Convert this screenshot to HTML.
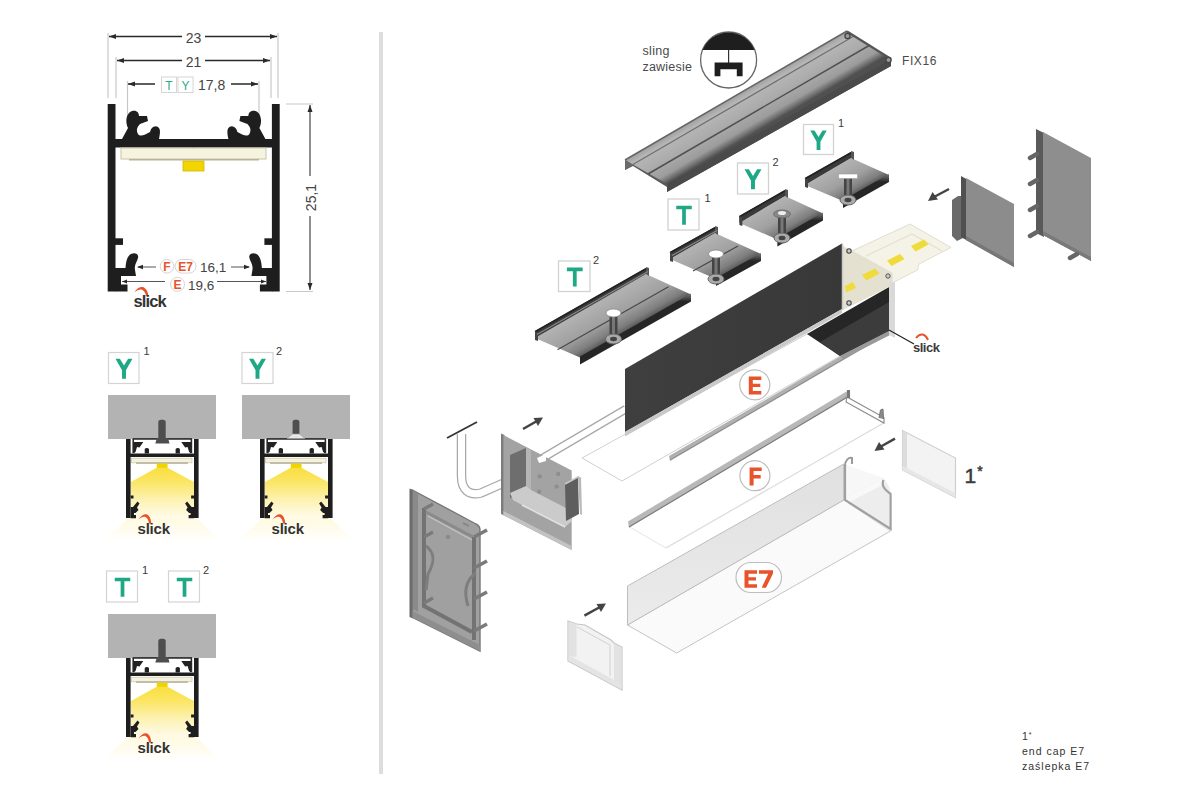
<!DOCTYPE html>
<html><head><meta charset="utf-8"><style>
html,body{margin:0;padding:0;background:#fff;width:1200px;height:800px;overflow:hidden}
svg{display:block;font-family:"Liberation Sans",sans-serif}
</style></head><body>
<svg width="1200" height="800" viewBox="0 0 1200 800">
<defs>
<marker id="arr" viewBox="0 0 10 10" refX="10" refY="5" markerWidth="6" markerHeight="6" orient="auto-start-reverse" markerUnits="userSpaceOnUse"><path d="M0 1 L10 5 L0 9 Z" fill="#222"/></marker>
<linearGradient id="cone" x1="0" y1="0" x2="0" y2="1"><stop offset="0" stop-color="#f9de3c"/><stop offset="0.3" stop-color="#fbe666"/><stop offset="0.65" stop-color="#fdf2b4"/><stop offset="1" stop-color="#fffbea"/></linearGradient>
<linearGradient id="glow" x1="0" y1="0" x2="0" y2="1"><stop offset="0" stop-color="#fff9dc"/><stop offset="1" stop-color="#ffffff"/></linearGradient>
<!-- mini cross-section (Y1 reference position) -->
<g id="mini">
  <polygon points="131,516 194,516 222,542 102,542" fill="url(#glow)"/>
  <polygon points="131,482 158,467 166,467 194,482 194,518 131,518" fill="url(#cone)"/>
  <rect x="108" y="395" width="108" height="44" fill="#b3b3b3"/>
  <rect x="126" y="439" width="4.6" height="79" fill="#1e1e1e"/>
  <rect x="194" y="439" width="4.6" height="79" fill="#1e1e1e"/>
  <rect x="130" y="453.5" width="64" height="3.5" fill="#1e1e1e"/>
  <rect x="131.5" y="458.2" width="60.5" height="4.6" fill="#f4f1dd" stroke="#c9c4aa" stroke-width="0.7"/>
  <rect x="136" y="462.6" width="52" height="1" fill="#9c9784"/>
  <rect x="156.8" y="463.6" width="10.8" height="4.2" fill="#f0d400"/>
  <rect x="132.7" y="438" width="59.3" height="1.8" fill="#3a3a3a"/>
  <rect x="132.4" y="439" width="1.6" height="14" fill="#2a2a2a"/>
  <rect x="190.6" y="439" width="1.6" height="14" fill="#2a2a2a"/>
  <path d="M133.5 442 H143.3 L139.5 447.5 L137 447 L135.5 452 L133.5 453.6 Z M144.7 453.6 V449 C145.5 447.8 148 447.8 149 449 V453.6 Z" fill="#222"/>
  <path d="M191.1 442 H181.3 L185.1 447.5 L187.6 447 L189.1 452 L191.1 453.6 Z M179.9 453.6 V449 C179.1 447.8 176.6 447.8 175.6 449 V453.6 Z" fill="#222"/>
  <path d="M130.6 495.5 H133.5 V498.5 H130.6 Z M130.6 507 H133 L137.5 501.5 L139.5 503.5 L137 507.5 L138.5 510 L135.5 513 H134 V515 H136 V518.3 H130.6 Z" fill="#1e1e1e"/>
  <path d="M194 495.5 H191.1 V498.5 H194 Z M194 507 H191.6 L187.1 501.5 L185.1 503.5 L187.6 507.5 L186.1 510 L189.1 513 H190.6 V515 H188.6 V518.3 H194 Z" fill="#1e1e1e"/>
  <path d="M138.5 519.5 C141 515.5 144.5 513.5 147 514.5 C149.5 515.5 151 519 151.3 523.5 L149 523.5 C148.6 520.3 147.4 517.8 145.4 517 C143.2 516.4 141 517.6 138.5 519.5 Z" fill="#e8532b"/>
  <text x="137.5" y="533.5" font-size="15" font-weight="bold" fill="#333" letter-spacing="-0.2">slick</text>
</g>
</defs>

<!-- divider -->
<rect x="379" y="32" width="4" height="742" fill="#dddddd"/>

<!-- ===== main cross-section ===== -->
<g id="xsec">
  <!-- extension lines -->
  <path d="M108 33 V98 M278 33 V98 M116 57 V98 M271 57 V98 M127.5 81 V120 M259 81 V120 M286 104 H313 M286 291.5 H313" stroke="#c8c8c8" stroke-width="1.2" fill="none"/>
  <!-- dimension lines -->
  <path d="M109 36.5 H182 M205 36.5 H277" stroke="#2a2a2a" stroke-width="1.3" fill="none"/>
  <path d="M109 36.5 l7 -2.5 v5 Z M277 36.5 l-7 -2.5 v5 Z" fill="#2a2a2a"/>
  <path d="M117 60.5 H182 M205 60.5 H270" stroke="#2a2a2a" stroke-width="1.3" fill="none"/>
  <path d="M117 60.5 l7 -2.5 v5 Z M270 60.5 l-7 -2.5 v5 Z" fill="#2a2a2a"/>
  <path d="M128 84 H155 M231 84 H258" stroke="#2a2a2a" stroke-width="1.3" fill="none"/>
  <path d="M128 84 l7 -2.5 v5 Z M258 84 l-7 -2.5 v5 Z" fill="#2a2a2a"/>
  <path d="M310 105 V176 M310 216 V290" stroke="#555" stroke-width="1.3" fill="none"/>
  <path d="M310 105 l-2.5 7 h5 Z M310 290 l-2.5 -7 h5 Z" fill="#2a2a2a"/>
  <text x="193.5" y="42.5" font-size="14" fill="#444" text-anchor="middle">23</text>
  <text x="193.5" y="66.5" font-size="14" fill="#444" text-anchor="middle">21</text>
  <text x="198" y="90" font-size="14" fill="#444">17,8</text>
  <text transform="translate(316 197.5) rotate(-90)" font-size="14" fill="#444" text-anchor="middle">25,1</text>
  <!-- T Y badges -->
  <rect x="161.5" y="77" width="15" height="15.5" fill="#fff" stroke="#d6d6d6" stroke-width="1"/>
  <rect x="178" y="77" width="15" height="15.5" fill="#fff" stroke="#d6d6d6" stroke-width="1"/>
  <text x="169" y="89.5" font-size="12" fill="#2aaa8a" text-anchor="middle">T</text>
  <text x="185.5" y="89.5" font-size="12" fill="#2aaa8a" text-anchor="middle">Y</text>

  <!-- profile -->
  <g fill="#1e1e1e" id="halfL">
    <rect x="107.7" y="104" width="7.8" height="187.5"/>
    <rect x="115" y="139" width="79" height="8.5"/>
    <path d="M122 139 L128 128 C125 122 126 113 132 111 C137 110 139 113 139 116 L147 116 L148 121 L140 124 C137 127 136 130 138 134 C140 137 145 135 150 132 C151 127 155 125 158 127 C161 129 160 134 159 139 Z"/>
    <rect x="115" y="238.3" width="8" height="6.6"/>
    <path d="M115 268 H125.5 C126 262 127 256 131 254 C135 252 139 254 138 258 C137 262 134 265 135 270 L136 276 H121 V284.5 H127.5 V291.5 H115 Z"/>
  </g>
  <use href="#halfL" transform="translate(387.4 0) scale(-1 1)"/>
  <rect x="121" y="148" width="145" height="11" fill="#f6f3de" stroke="#c9c4a8" stroke-width="1"/>
  <rect x="129" y="159" width="130" height="1.5" fill="#b9b39a"/>
  <rect x="183" y="161" width="21" height="10" fill="#f2d400" stroke="#d8b800" stroke-width="0.8"/>
  <!-- bottom dims -->
  <path d="M138 267 H156 M231 267 H249" stroke="#555" stroke-width="1.2" fill="none"/>
  <path d="M137 267 l6 -2.3 v4.6 Z M250 267 l-6 -2.3 v4.6 Z" fill="#2a2a2a"/>
  <path d="M122 281.5 H165 M217 281.5 H266" stroke="#555" stroke-width="1.2" fill="none"/>
  <path d="M122 281.5 l5 -2 v4 Z M266 281.5 l-5 -2 v4 Z" fill="#2a2a2a"/>
  <circle cx="167" cy="266.3" r="6.8" fill="#fff" stroke="#d5d5d5" stroke-width="1"/>
  <rect x="175" y="259.5" width="21" height="13.6" rx="6.8" fill="#fff" stroke="#d5d5d5" stroke-width="1"/>
  <circle cx="177.5" cy="284.3" r="7" fill="#fff" stroke="#d5d5d5" stroke-width="1"/>
  <text x="167" y="271" font-size="12" font-weight="bold" fill="#e8532b" text-anchor="middle">F</text>
  <text x="185.5" y="271" font-size="12" font-weight="bold" fill="#e8532b" text-anchor="middle">E7</text>
  <text x="177.5" y="289" font-size="12" font-weight="bold" fill="#e8532b" text-anchor="middle">E</text>
  <text x="200" y="271.5" font-size="13.5" fill="#444">16,1</text>
  <text x="188" y="290" font-size="13.5" fill="#444">19,6</text>
  <path d="M134.5 292 C137 288 141 286 144 287.5 C146.5 289 148 292 148.5 296 L146 296 C145.5 293 144 290.5 141.5 289.5 C139 289 137 290.5 134.5 292 Z" fill="#e8532b"/>
  <text x="133.5" y="307" font-size="16.5" font-weight="bold" fill="#333" letter-spacing="-0.9">slick</text>
</g>

<!-- ===== mini sections ===== -->
<use href="#mini"/>
<use href="#mini" transform="translate(134 0)"/>
<use href="#mini" transform="translate(0 219)"/>
<g id="scr1" fill="#4e4e4e"><path d="M158.3 438 V422 C158.3 420 160 419.7 162 419.7 C164 419.7 165.7 420 165.7 422 V438 Z"/><path d="M157 438 H168 L169.5 443.5 H155.3 Z"/></g>
<use href="#scr1" transform="translate(0 219)"/>
<g transform="translate(134 0)"><path d="M158.6 434 V422 C158.6 420 160 419.7 162 419.7 C164 419.7 165.4 420 165.4 422 V434 Z" fill="#4e4e4e"/><path d="M158.6 434 H165.4 L171 438.5 H153 Z" fill="#e8e8e8" stroke="#9a9a9a" stroke-width="0.6"/></g>
<g font-family="Liberation Sans, sans-serif">
  <rect x="108.5" y="352.5" width="30.5" height="31" fill="#fff" stroke="#d4d4d4" stroke-width="1.2"/>
  <path transform="translate(108.5 352.5) scale(1.033)" d="M6.8 6 H11 L15 12.6 L19 6 H23.2 L16.9 17.2 V25.5 H13.1 V17.2 Z" fill="#1fa886"/>
  <text x="143.5" y="355" font-size="11" fill="#3a3a3a">1</text>
  <rect x="242" y="352.5" width="31" height="31" fill="#fff" stroke="#d4d4d4" stroke-width="1.2"/>
  <path transform="translate(242 352.5) scale(1.033)" d="M6.8 6 H11 L15 12.6 L19 6 H23.2 L16.9 17.2 V25.5 H13.1 V17.2 Z" fill="#1fa886"/>
  <text x="276" y="355" font-size="11" fill="#3a3a3a">2</text>
  <rect x="106.5" y="571" width="31" height="31" fill="#fff" stroke="#d4d4d4" stroke-width="1.2"/>
  <path transform="translate(106.5 571) scale(1.033)" d="M8 6.5 H23 V10 H17.3 V25 H13.7 V10 H8 Z" fill="#1fa886"/>
  <text x="142" y="574" font-size="11" fill="#3a3a3a">1</text>
  <rect x="168.5" y="571" width="31" height="31" fill="#fff" stroke="#d4d4d4" stroke-width="1.2"/>
  <path transform="translate(168.5 571) scale(1.033)" d="M8 6.5 H23 V10 H17.3 V25 H13.7 V10 H8 Z" fill="#1fa886"/>
  <text x="203" y="574" font-size="11" fill="#3a3a3a">2</text>
</g>

<!-- RIGHT SIDE START -->
<polygon points="409.5,488.5 413,490 413,618.5 409.5,617" fill="#6a6a6a"/>
<path d="M412.4 490 L476 524 Q480 526 480 530 L480 651 L412.4 617.4 Z" fill="#a0a0a0" stroke="#777" stroke-width="1.4"/>
<polygon points="412.4,611 480,645 480,651 412.4,617.4" fill="#8e8e8e"/>
<polygon points="418,494 418,612 413,609 413,491" fill="#8a8a8a"/>
<path d="M424 508 V606 L472 632" stroke="#737373" stroke-width="4" fill="none"/>
<path d="M426 512 L473 537" stroke="#8a8a8a" stroke-width="3" fill="none"/>
<path d="M428 516 L472 540" stroke="#c4c4c4" stroke-width="1.2" fill="none"/>
<path d="M424 509 L433 504 M424 537 L433 532 M424 603 L433 598" stroke="#7a7a7a" stroke-width="3.2" fill="none"/>
<path d="M426 546 C434 552 436 560 428 574 L426 590" stroke="#7e7e7e" stroke-width="3" fill="none"/>
<path d="M474 537 V640" stroke="#737373" stroke-width="4"/>
<path d="M474 537 L487 530 M474 568 L487 561 M474 599 L487 592 M474 631 L487 624" stroke="#7a7a7a" stroke-width="3.6" fill="none"/>
<path d="M476 573 C466 580 463 590 468 606" stroke="#7e7e7e" stroke-width="3" fill="none"/>
<circle cx="448" cy="537" r="2.3" fill="#8a8a8a"/>
<path d="M463 523 l6 3" stroke="#888" stroke-width="2"/>
<path d="M447 438 L477 422" stroke="#333" stroke-width="1.8"/>
<path d="M461.5 434 V476 C461.5 490 469 496 481 493 L506 482" stroke="#a8a8a8" stroke-width="9.5" fill="none"/>
<path d="M461.5 434 V476 C461.5 490 469 496 481 493 L506 482" stroke="#fff" stroke-width="7" fill="none"/>
<path d="M541 459 L626 409" stroke="#a8a8a8" stroke-width="8.5" fill="none"/>
<path d="M541 459 L626 409" stroke="#fff" stroke-width="6" fill="none"/>
<polygon points="501,433.5 504.5,435 504.5,515.5 501,514" fill="#7c7c7c"/>
<polygon points="503.4,435 571.7,470.5 571.7,550 503.4,515.2" fill="#a3a3a3"/>
<polygon points="503.4,511 571.7,546 571.7,550 503.4,515.2" fill="#c2c2c2"/>
<polygon points="510,455 526,448 526,492 510,498" fill="#6e6e6e"/>
<polygon points="526,448 531,450 531,490 526,492" fill="#b5b5b5"/>
<polygon points="510,493 526,486 531,490 566,508 572,521 565,527 522,505 513,500" fill="#cbcbcb"/>
<path d="M522 505 L565 527" stroke="#e2e2e2" stroke-width="1.5"/>
<polygon points="565,484 578,477 579,514 566,521" fill="#5e5e5e"/>
<path d="M565 484 L578 477 L581 479" stroke="#c8c8c8" stroke-width="1.6" fill="none"/>
<polygon points="578,476 581,478 582,515 580,514" fill="#b8b8b8"/>
<polygon points="537,458 546,454 546,461 539,463" fill="#fff"/>
<circle cx="539.7" cy="476.4" r="2.2" fill="#8e8e8e"/><circle cx="558.2" cy="473.9" r="2.2" fill="#8e8e8e"/>
<circle cx="539.2" cy="491.6" r="2.2" fill="#8e8e8e"/><circle cx="556.6" cy="486.6" r="2.2" fill="#8e8e8e"/>
<polygon points="582,458 807,334 889,328 622,481" fill="#fff" stroke="#d0d0d0" stroke-width="1"/>
<polygon points="669,456 889,328 890,333 670,461" fill="#b0b0b0"/>
<path d="M670 460 L890 332" stroke="#8a8a8a" stroke-width="1"/>
<polygon points="625,369 842,243.5 842,309 625,432" fill="url(#darkPanel)"/>
<polygon points="625,432 842,309 842,313 625,436.5" fill="#c9c9c9"/>
<polygon points="807,334 889,287 889,331 840,356" fill="#262626"/>
<polygon points="820,342 889,302 889,331 840,356" fill="#3c3c3c"/>
<polygon points="840,356 889,331 892,334 843,359" fill="#9a9a9a"/>
<polygon points="889,272 895,275 895,338 889,335" fill="#d9d9d9"/>

<polygon points="843,246 856,253 892,273 889,287 843,310" fill="#e4e1d1"/>
<polygon points="852,251 910,224 951,247.5 919,264 917.5,270 892,283 892,273" fill="#f5f3e7" stroke="#e2dece" stroke-width="1"/>
<path d="M866 256 L912 234 L942 251" stroke="#e4e0cf" stroke-width="1.2" fill="none"/>
<polygon points="911,246 924,239.5 928.5,244.5 915.5,251.5" fill="#efdb3a"/>
<polygon points="887,260.5 900,254 904.5,259 891.5,266" fill="#efdb3a"/>
<polygon points="862,275 875,268.5 879.5,273.5 866.5,280.5" fill="#efdb3a"/>
<polygon points="845,286 853,282 856,288 846,292.5" fill="#efdb3a"/>
<path d="M842.5 243.5 V310" stroke="#c9c9c9" stroke-width="1.5"/>
<circle cx="849" cy="251" r="2.2" fill="#ccc" stroke="#444" stroke-width="1.1"/>
<circle cx="849" cy="303" r="2.2" fill="#ccc" stroke="#444" stroke-width="1.1"/>
<circle cx="888" cy="276" r="2.2" fill="#ccc" stroke="#555" stroke-width="1"/>
<path d="M889 330 L914 344" stroke="#222" stroke-width="1.2"/>
<path d="M916 338 C920 333 925 333 928 340" stroke="#e8532b" stroke-width="2" fill="none"/>
<text x="913" y="352" font-size="13" font-weight="bold" fill="#3a3a3a" letter-spacing="-0.5">slick</text>
<path d="M523 429 L537 421" stroke="#444" stroke-width="2.5"/>
<path d="M543 417.5 l-9.5 0.5 l4.5 8 Z" fill="#444"/>
<polygon points="952,200 958,196 963,196 963,238 957,241 952,236" fill="#6a6a6a"/>
<polygon points="961,176 968,180 968,241 961,237" fill="#505050"/>
<polygon points="966,178 1014,204 1014,267 966,240" fill="#8c8c8c"/>
<polygon points="966,236 1014,263 1014,267 966,240" fill="#777"/>
<polygon points="1036,129 1044,133 1044,237 1036,233" fill="#5a5a5a"/>
<polygon points="1043,132 1091,158 1091,261 1043,235" fill="#8e8e8e"/>
<polygon points="1043,231 1091,257 1091,261 1043,235" fill="#7a7a7a"/>
<path d="M1030 158 L1037 154 M1030 184 L1037 180 M1030 210 L1037 206 M1030 236 L1037 232 M1070 258 L1077 254" stroke="#666" stroke-width="4.5" stroke-linecap="round"/>
<path d="M949 189 L934 197" stroke="#444" stroke-width="2.5"/>
<path d="M928 201 l4.5 -9 l5.5 7.5 Z" fill="#444"/>
<polygon points="628,524 849.8,392.8 883.6,423 666,548" fill="#fff"/>
<path d="M666 548 L883.6 423" stroke="#dadada" stroke-width="1.2"/>
<path d="M628 526 L666 548" stroke="#e5e5e5" stroke-width="1"/>
<polygon points="628,521.5 849,390 850,396 629,527.5" fill="#b8b8b8"/>
<path d="M629 527 L850 395.5" stroke="#7a7a7a" stroke-width="1.1"/>
<polygon points="847,397 884,417.5 884,423 846,402" fill="#fff" stroke="#8a8a8a" stroke-width="1.1"/>
<path d="M879 418 L880.5 410 L883 409 L883.5 419" fill="#8a8a8a" stroke="#777" stroke-width="1"/>
<path d="M848.5 390 v8" stroke="#777" stroke-width="3"/>
<polygon points="627.5,625 676.6,653 890.6,531 843.75,500" fill="#fafafa" stroke="#c4c4c4" stroke-width="1"/>
<polygon points="843.75,464 843.75,500 890.6,531 890.6,490 884,478" fill="#f7f7f7"/>
<polygon points="846,497 884,478 889.5,488 889.5,527 846,502" fill="#ededed"/>
<polygon points="846,497 884,478 886,483 846,504" fill="#f8f8f8"/>
<polygon points="627.5,586 843.75,464 843.75,500 627.5,625" fill="url(#e7side)" stroke="#bdbdbd" stroke-width="1"/>
<path d="M845 465 V500 L890.6 529 V494 C885 490 881 486 883.5 480" stroke="#a0a0a0" stroke-width="2.2" fill="none"/>
<path d="M845 466 C845 460 849 457 852 458 L852 464" stroke="#9a9a9a" stroke-width="2" fill="none"/>
<polygon points="568,621 577,624 585,625 611,640 614,643 622,647 622,690 568,661" fill="#f2f2f2" stroke="#c6c6c6" stroke-width="1.2"/>
<polygon points="568.5,621.5 576.5,624 576.5,657 568.5,656" fill="#e2e2e2"/>
<polygon points="614,643.5 621.5,647.5 621.5,686 614,682" fill="#e2e2e2"/>
<path d="M577 627 L610 645 V676" stroke="#d2d2d2" stroke-width="1" fill="none"/>
<polygon points="568.5,655 621.5,684 621.5,689.5 568.5,660.5" fill="#e4e4e4"/>
<path d="M584.4 615.6 L600 607" stroke="#444" stroke-width="2.5"/>
<path d="M606 603.5 l-9.5 0.5 l4.5 8 Z" fill="#444"/>
<polygon points="902.5,430.5 955.5,458 955.5,497.5 902.5,470" fill="#f3f3f3" stroke="#cfcfcf" stroke-width="1.2"/>
<polygon points="902.5,430.5 907,433 907,472.5 902.5,470" fill="#dcdcdc"/>
<polygon points="902.5,466 955.5,493 955.5,497.5 902.5,470" fill="#e6e6e6"/>
<path d="M895 438.7 L880 447" stroke="#444" stroke-width="2.5"/>
<path d="M874.5 451 l4.5 -9 l5.5 7.5 Z" fill="#444"/>
<text x="964.5" y="482.5" font-size="21" fill="#3a3a3a" stroke="#3a3a3a" stroke-width="0.5">1<tspan font-size="14" dy="-7" dx="1">*</tspan></text>
<circle cx="754.8" cy="384.8" r="15" fill="#fff" stroke="#bdbdbd" stroke-width="1.2"/>
<path transform="translate(754.8 385.5)" d="M-6 -9 H6.5 V-5.6 H-2 V-1.8 H5.5 V1.6 H-2 V5.6 H6.5 V9 H-6 Z" fill="#e8532b"/>
<circle cx="754.9" cy="475.7" r="15" fill="#fff" stroke="#bdbdbd" stroke-width="1.2"/>
<path transform="translate(755.4 476.5)" d="M-5.8 -9 H6.3 V-5.6 H-1.8 V-1.4 H5.3 V2 H-1.8 V9 H-5.8 Z" fill="#e8532b"/>
<rect x="736" y="562.5" width="45.5" height="30" rx="15" fill="#fff" stroke="#bdbdbd" stroke-width="1.2"/>
<path transform="translate(751 579)" d="M-6.5 -8.7 H6 V-5.3 H-2.5 V-1.7 H5 V1.6 H-2.5 V5.3 H6 V8.7 H-6.5 Z" fill="#e8532b"/>
<path transform="translate(766 579)" d="M-7 -8.7 H7 V-5.6 L0 8.7 H-4.3 L2.3 -5.3 H-7 Z" fill="#e8532b"/>
<g font-size="10.5" fill="#333" letter-spacing="1"><text x="1022" y="739.5">1<tspan font-size="7" dy="-3">*</tspan></text>
<text x="1022" y="755">end cap E7</text><text x="1022" y="769.5">zaślepka E7</text></g>
<defs>
<linearGradient id="railTop" gradientUnits="userSpaceOnUse" x1="625" y1="160" x2="646" y2="196">
 <stop offset="0" stop-color="#a0a0a0"/><stop offset="0.15" stop-color="#b6b6b6"/><stop offset="0.5" stop-color="#ababab"/><stop offset="0.8" stop-color="#9c9c9c"/><stop offset="0.92" stop-color="#707070"/><stop offset="1" stop-color="#505050"/></linearGradient>
<linearGradient id="clipPlate" x1="0" y1="0" x2="1" y2="1">
 <stop offset="0" stop-color="#b4b4b4"/><stop offset="0.6" stop-color="#9a9a9a"/><stop offset="1" stop-color="#7a7a7a"/></linearGradient>
<linearGradient id="darkPanel" x1="0" y1="0" x2="1" y2="0">
 <stop offset="0" stop-color="#3f3f3f"/><stop offset="1" stop-color="#383838"/></linearGradient>
<linearGradient id="capFace" x1="0" y1="0" x2="1" y2="1">
 <stop offset="0" stop-color="#9a9a9a"/><stop offset="1" stop-color="#8a8a8a"/></linearGradient>
<linearGradient id="e7side" x1="0" y1="0" x2="0" y2="1">
 <stop offset="0" stop-color="#e0e0e0"/><stop offset="1" stop-color="#ebebeb"/></linearGradient>
</defs>
<g fill="#4a4a4a" font-size="12.5">
<text x="642.5" y="55" letter-spacing="0.3">sling</text><text x="642.5" y="70.5" letter-spacing="0.2">zawiesie</text>
<text x="902" y="64.5" font-size="12" letter-spacing="0.6">FIX16</text></g>
<circle cx="728.6" cy="60" r="28" fill="#fff" stroke="#666" stroke-width="1.3"/>
<path d="M702.6 50 A28 28 0 0 1 754.6 50 Z" fill="#1e1e1e"/>
<path d="M728.6 50 V63" stroke="#333" stroke-width="1.2"/>
<path d="M714.6 62.5 H742.6 V76.3 H736.8 V69.3 H720.4 V76.3 H714.6 Z" fill="#1e1e1e"/>
<polygon points="625.0,160.0 625.0,170.0 633.0,166.0 667.0,187.0 667.0,192.0 891.0,66.0 891.0,59.0 847.0,31.0" fill="#5a5a5a"/>
<polygon points="625.0,160.0 847.0,31.0 891.0,59.0 667.0,184.0" fill="url(#railTop)"/>
<polygon points="667.0,184.0 891.0,59.0 891.0,66.0 667.0,192.0" fill="#4a4a4a"/>
<polygon points="625.0,160.0 625.0,170.0 633.0,165.0" fill="#6a6a6a"/>
<path d="M625 160 L847 31" stroke="#666" stroke-width="1.5"/>
<path d="M632 165 L854 36" stroke="#707070" stroke-width="1.2"/>
<path d="M648 174 L870 45" stroke="#505050" stroke-width="1.5"/>
<path d="M847 31.5 L891 59" stroke="#555" stroke-width="2.2"/>
<circle cx="847.5" cy="36" r="2.6" fill="#999" stroke="#444" stroke-width="1.3"/>
<circle cx="888.5" cy="60" r="2.6" fill="#999" stroke="#444" stroke-width="1.3"/>
<linearGradient id="cp1" gradientUnits="userSpaceOnUse" x1="851.0" y1="152.0" x2="869.6" y2="185.0"><stop offset="0" stop-color="#8a8a8a"/><stop offset="0.15" stop-color="#b2b2b2"/><stop offset="0.6" stop-color="#a0a0a0"/><stop offset="0.88" stop-color="#7e7e7e"/><stop offset="1" stop-color="#5e5e5e"/></linearGradient>
<linearGradient id="cp1f" gradientUnits="userSpaceOnUse" x1="0" y1="174.0" x2="0" y2="182.0"><stop offset="0" stop-color="#777"/><stop offset="1" stop-color="#262626"/></linearGradient>
<polygon points="805.0,185.0 851.0,158.0 889.0,175.0 843.0,201.0" fill="url(#cp1)"/>
<polygon points="805.0,178.0 851.0,152.0 851.0,158.0 805.0,185.0" fill="#3a3a3a"/>
<path d="M805.0 178.8 L851.0 152.8" stroke="#222" stroke-width="1.6"/>
<polygon points="851.0,151.0 851.0,158.0 854.0,160.0 854.0,152.0" fill="#555"/>
<polygon points="889.0,174.0 889.0,182.0 843.0,208.0 843.0,200.0" fill="url(#cp1f)"/>
<polygon points="805.0,178.0 805.0,187.0 808.0,188.0 808.0,180.0" fill="#444"/>
<rect x="844.0" y="178.0" width="8" height="22.0" fill="#444"/>
<rect x="846.5" y="178.0" width="3" height="22.0" fill="#777"/>
<ellipse cx="848.0" cy="200.0" rx="8" ry="5" fill="#aaa" stroke="#666" stroke-width="1"/>
<ellipse cx="848.0" cy="200.0" rx="3.5" ry="2.2" fill="#444"/>
<rect x="838.5" y="174.0" width="19" height="4.5" fill="#fff"/>
<rect x="838.5" y="174.0" width="19" height="4.5" fill="none" stroke="#999" stroke-width="0.6"/>
<linearGradient id="cp2" gradientUnits="userSpaceOnUse" x1="785.0" y1="190.0" x2="804.0" y2="223.3"><stop offset="0" stop-color="#8a8a8a"/><stop offset="0.15" stop-color="#b2b2b2"/><stop offset="0.6" stop-color="#a0a0a0"/><stop offset="0.88" stop-color="#7e7e7e"/><stop offset="1" stop-color="#5e5e5e"/></linearGradient>
<linearGradient id="cp2f" gradientUnits="userSpaceOnUse" x1="0" y1="212.5" x2="0" y2="220.5"><stop offset="0" stop-color="#777"/><stop offset="1" stop-color="#262626"/></linearGradient>
<polygon points="739.4,223.0 785.0,196.0 823.0,213.5 777.4,239.5" fill="url(#cp2)"/>
<polygon points="739.4,216.0 785.0,190.0 785.0,196.0 739.4,223.0" fill="#3a3a3a"/>
<path d="M739.4 216.8 L785.0 190.8" stroke="#222" stroke-width="1.6"/>
<polygon points="785.0,189.0 785.0,196.0 788.0,198.0 788.0,190.0" fill="#555"/>
<polygon points="823.0,212.5 823.0,220.5 777.4,246.5 777.4,238.5" fill="url(#cp2f)"/>
<polygon points="739.4,216.0 739.4,225.0 742.4,226.0 742.4,218.0" fill="#444"/>
<rect x="778.0" y="215.0" width="8" height="23.0" fill="#444"/>
<rect x="780.5" y="215.0" width="3" height="23.0" fill="#777"/>
<ellipse cx="782.0" cy="238.0" rx="8" ry="5" fill="#aaa" stroke="#666" stroke-width="1"/>
<ellipse cx="782.0" cy="238.0" rx="3.5" ry="2.2" fill="#444"/>
<ellipse cx="782.0" cy="214.0" rx="8.5" ry="4" fill="#888" stroke="#666" stroke-width="0.8"/>
<ellipse cx="782.0" cy="213.0" rx="4" ry="2" fill="#eee"/>
<linearGradient id="cp3" gradientUnits="userSpaceOnUse" x1="715.0" y1="227.0" x2="736.9" y2="266.4"><stop offset="0" stop-color="#8a8a8a"/><stop offset="0.15" stop-color="#b2b2b2"/><stop offset="0.6" stop-color="#a0a0a0"/><stop offset="0.88" stop-color="#7e7e7e"/><stop offset="1" stop-color="#5e5e5e"/></linearGradient>
<linearGradient id="cp3f" gradientUnits="userSpaceOnUse" x1="0" y1="253.0" x2="0" y2="261.0"><stop offset="0" stop-color="#777"/><stop offset="1" stop-color="#262626"/></linearGradient>
<polygon points="670.0,259.0 715.0,233.0 761.0,254.0 716.0,279.0" fill="url(#cp3)"/>
<polygon points="670.0,252.0 715.0,227.0 715.0,233.0 670.0,259.0" fill="#3a3a3a"/>
<path d="M670.0 252.8 L715.0 227.8" stroke="#222" stroke-width="1.6"/>
<polygon points="715.0,226.0 715.0,233.0 718.0,235.0 718.0,227.0" fill="#555"/>
<polygon points="761.0,253.0 761.0,261.0 716.0,286.0 716.0,278.0" fill="url(#cp3f)"/>
<polygon points="670.0,252.0 670.0,261.0 673.0,262.0 673.0,254.0" fill="#444"/>
<path d="M693.0 271.0 L738.0 246.0" stroke="#4a4a4a" stroke-width="1.3"/>
<path d="M672.0 255.5 L717.0 230.5" stroke="#8a8a8a" stroke-width="1.2"/>
<rect x="712.0" y="255.0" width="8" height="24.0" fill="#444"/>
<rect x="714.5" y="255.0" width="3" height="24.0" fill="#777"/>
<ellipse cx="716.0" cy="279.0" rx="8" ry="5" fill="#aaa" stroke="#666" stroke-width="1"/>
<ellipse cx="716.0" cy="279.0" rx="3.5" ry="2.2" fill="#444"/>
<ellipse cx="716.0" cy="254.0" rx="7.5" ry="4" fill="#fff" stroke="#888" stroke-width="0.8"/>
<linearGradient id="cp4" gradientUnits="userSpaceOnUse" x1="646.0" y1="268.0" x2="667.9" y2="306.6"><stop offset="0" stop-color="#8a8a8a"/><stop offset="0.15" stop-color="#b2b2b2"/><stop offset="0.6" stop-color="#a0a0a0"/><stop offset="0.88" stop-color="#7e7e7e"/><stop offset="1" stop-color="#5e5e5e"/></linearGradient>
<linearGradient id="cp4f" gradientUnits="userSpaceOnUse" x1="0" y1="293.5" x2="0" y2="301.5"><stop offset="0" stop-color="#777"/><stop offset="1" stop-color="#262626"/></linearGradient>
<polygon points="535.0,338.0 646.0,274.0 691.0,294.5 580.0,357.5" fill="url(#cp4)"/>
<polygon points="535.0,331.0 646.0,268.0 646.0,274.0 535.0,338.0" fill="#3a3a3a"/>
<path d="M535.0 331.8 L646.0 268.8" stroke="#222" stroke-width="1.6"/>
<polygon points="646.0,267.0 646.0,274.0 649.0,276.0 649.0,268.0" fill="#555"/>
<polygon points="691.0,293.5 691.0,301.5 580.0,364.5 580.0,356.5" fill="url(#cp4f)"/>
<polygon points="535.0,331.0 535.0,340.0 538.0,341.0 538.0,333.0" fill="#444"/>
<path d="M557.5 349.8 L668.5 286.8" stroke="#4a4a4a" stroke-width="1.3"/>
<path d="M537.0 334.5 L648.0 271.5" stroke="#8a8a8a" stroke-width="1.2"/>
<rect x="609.5" y="314.0" width="8" height="25.0" fill="#444"/>
<rect x="612.0" y="314.0" width="3" height="25.0" fill="#777"/>
<ellipse cx="613.5" cy="339.0" rx="8" ry="5" fill="#aaa" stroke="#666" stroke-width="1"/>
<ellipse cx="613.5" cy="339.0" rx="3.5" ry="2.2" fill="#444"/>
<ellipse cx="613.5" cy="313.0" rx="7.5" ry="4" fill="#fff" stroke="#888" stroke-width="0.8"/>
<rect x="803.5" y="124.5" width="30" height="30" fill="#fff" stroke="#d2d2d2" stroke-width="1.3"/><path transform="translate(803.5 124.5) scale(1.000 1.000)" d="M6.8 6 H11 L15 12.6 L19 6 H23.2 L16.9 17.2 V25.5 H13.1 V17.2 Z" fill="#1fa886"/><text x="838" y="127" font-size="11" fill="#3a3a3a">1</text>
<rect x="737.5" y="163" width="31" height="31" fill="#fff" stroke="#d2d2d2" stroke-width="1.3"/><path transform="translate(737.5 163) scale(1.033 1.033)" d="M6.8 6 H11 L15 12.6 L19 6 H23.2 L16.9 17.2 V25.5 H13.1 V17.2 Z" fill="#1fa886"/><text x="772.5" y="166" font-size="11" fill="#3a3a3a">2</text>
<rect x="668" y="199" width="31" height="31" fill="#fff" stroke="#d2d2d2" stroke-width="1.3"/><path transform="translate(668 199) scale(1.033 1.033)" d="M8 6.5 H23 V10 H17.3 V25 H13.7 V10 H8 Z" fill="#1fa886"/><text x="704.5" y="201.5" font-size="11" fill="#3a3a3a">1</text>
<rect x="558.5" y="261" width="31.5" height="30.5" fill="#fff" stroke="#d2d2d2" stroke-width="1.3"/><path transform="translate(558.5 261) scale(1.050 1.017)" d="M8 6.5 H23 V10 H17.3 V25 H13.7 V10 H8 Z" fill="#1fa886"/><text x="593" y="264" font-size="11" fill="#3a3a3a">2</text>
<!-- RIGHT SIDE END -->

</svg>
</body></html>
